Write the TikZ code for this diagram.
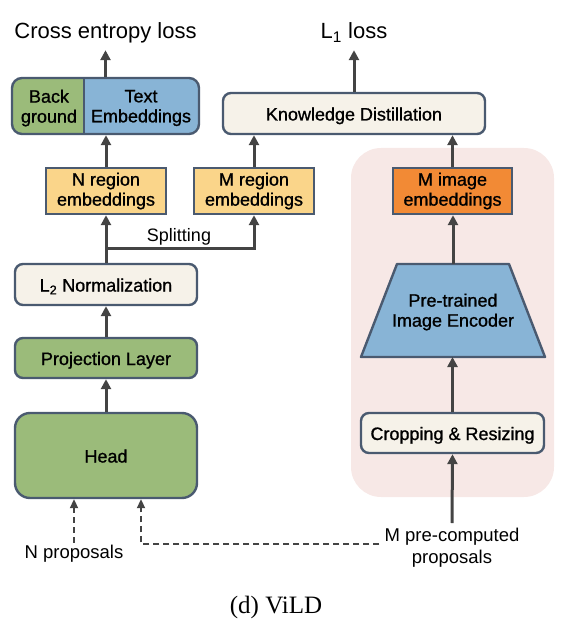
\documentclass[tikz,border=0pt]{standalone}
\usepackage{fontspec}
\setmainfont{Liberation Sans}
\newfontfamily\capfont{Liberation Serif}
\newfontfamily\medfont[FakeBold=1]{Liberation Sans}
\usetikzlibrary{arrows.meta,calc}
\definecolor{cgreen}{RGB}{155,187,122}
\definecolor{cblue}{RGB}{136,180,214}
\definecolor{ccream}{RGB}{246,242,233}
\definecolor{cyellow}{RGB}{250,213,138}
\definecolor{corange}{RGB}{242,138,53}
\definecolor{cpink}{RGB}{247,232,230}
\definecolor{cborder}{RGB}{74,90,112}
\definecolor{carrow}{RGB}{68,68,68}
\tikzset{
  box/.style={draw=cborder, line width=2.4pt, inner sep=0pt, align=center,
    font=\fontsize{18}{20}\medfont},
  rbox/.style={box, rounded corners=8pt},
  oneline/.style={text height=14pt, text depth=0pt},
  arr/.style={draw=carrow, line width=3pt, -{Triangle[length=10pt,width=10pt]}},
  darr/.style={draw=carrow, line width=2pt, dash pattern=on 6pt off 4pt,
    -{Triangle[length=9pt,width=8pt]}},
  toplabel/.style={anchor=base, font=\fontsize{22}{24}\selectfont,
    text height=16pt, text depth=5pt, inner sep=6pt},
  botlabel/.style={font=\fontsize{18.5}{22}\selectfont, align=center},
}
\begin{document}
\begin{tikzpicture}[x=1pt,y=-1pt]
\useasboundingbox (0,0) rectangle (567,628);
% pink background region
\fill[cpink, rounded corners=30pt] (351,148) rectangle (554,497);
% Back/Text embeddings box
\fill[cblue, rounded corners=10pt] (12,78) rectangle (199,134);
\begin{scope}
  \clip[rounded corners=10pt] (12,78) rectangle (199,134);
  \fill[cgreen] (12,78) rectangle (84,134);
\end{scope}
\node[box, rounded corners=10pt, minimum width=187pt, minimum height=56pt] (emb) at (105.5,106) {};
\draw[cborder, line width=2.4pt] (84,78) -- (84,134);
\node[box, draw=none] (bg) at (49,108) {Back\\ground};
\node[box, draw=none] (te) at (141,108) {Text\\Embeddings};
% other boxes
\node[rbox, oneline, fill=ccream, minimum width=262pt, minimum height=41pt] (kd) at (354,113.5) {Knowledge Distillation};
\node[box, fill=cyellow, minimum width=120pt, minimum height=46pt] (nre) at (106,191) {N region\\embeddings};
\node[box, fill=cyellow, minimum width=120pt, minimum height=46pt] (mre) at (254,191) {M region\\embeddings};
\node[box, fill=corange, minimum width=119pt, minimum height=46pt] (mie) at (452.5,191) {M image\\embeddings};
\node[rbox, oneline, fill=ccream, minimum width=182pt, minimum height=41pt] (l2) at (106,284.5) {L\textsubscript{2} Normalization};
\node[rbox, oneline, fill=cgreen, minimum width=182pt, minimum height=40pt] (proj) at (106,358) {Projection Layer};
\node[box, oneline, rounded corners=15pt, fill=cgreen, minimum width=182pt, minimum height=85pt] (head) at (106,455.5) {Head};
\node[rbox, oneline, fill=ccream, minimum width=183pt, minimum height=40pt] (crop) at (452.5,433) {Cropping \& Resizing};
% trapezoid encoder
\filldraw[fill=cblue, draw=cborder, line width=2.4pt, line join=round]
  (397,264) -- (509,264) -- (545,357) -- (361,357) -- cycle;
\node[box, draw=none, minimum width=112pt, minimum height=93pt] (enc) at (453,312) {Pre-trained\\Image Encoder};
% labels
\node[toplabel] (ce) at (105.5,39) {Cross entropy loss};
\node[toplabel] (l1) at (354,39) {L\textsubscript{1} loss};
\node[font=\fontsize{18}{20}\selectfont] (spl) at (179,237) {Splitting};
\node[botlabel, anchor=base, text height=13.5pt, text depth=4pt, inner sep=1.5pt] (np) at (74,558) {N proposals};
\node[botlabel, anchor=north, inner xsep=5pt, inner ysep=5pt] (mp) at (452,523) {M pre-computed\\proposals};
\node[font=\fontsize{25}{27}\capfont] (cap) at (276,607) {(d) ViLD};
% arrows
\draw[arr] (emb.north) -- (ce.south);
\draw[arr] (kd.north) -- (l1.south);
\draw[arr] (nre.north) -- (nre.north |- emb.south);
\draw[arr] (mre.north) -- (mre.north |- kd.south);
\draw[arr] (mie.north) -- (mie.north |- kd.south);
\draw[arr] (l2.north) -- (nre.south);
\coordinate (sp) at (254,248);
\draw[arr] (l2.north |- sp) -- (sp) -- (mre.south);
\draw[arr] (proj.north) -- (l2.south);
\draw[arr] (head.north) -- (proj.south);
\draw[arr] (enc.north |- 0,264) -- (mie.south -| enc.north);
\draw[arr] (crop.north) -- (crop.north |- 0,357);
\draw[arr] (mp.north) -- (crop.south);
% dashed proposals
\draw[darr] (np.north) -- (np.north |- head.south);
\coordinate (dj) at (141,544);
\draw[darr] (mp.west |- dj) -- (dj) -- (dj |- head.south);
\end{tikzpicture}
\end{document}
